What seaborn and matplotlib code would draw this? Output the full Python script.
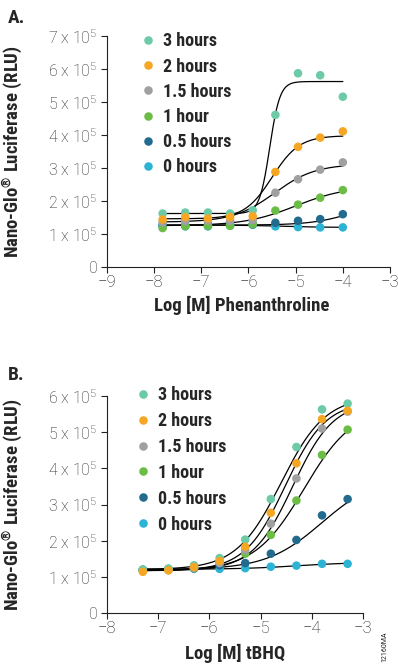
import numpy as np
import pandas as pd
import matplotlib
matplotlib.use("Agg")
import matplotlib.pyplot as plt
import seaborn as sns
from matplotlib import font_manager

sns.set_style("ticks")

names = {f.name for f in font_manager.fontManager.ttflist}
BOLD_FONT = [f for f in ["Roboto Condensed", "Barlow Condensed", "Fira Sans Condensed",
                         "Liberation Sans", "DejaVu Sans"] if f in names]
TICK_FONT = [f for f in ["Roboto", "Liberation Sans", "DejaVu Sans"] if f in names]
plt.rcParams["font.family"] = TICK_FONT
plt.rcParams["mathtext.default"] = "regular"

# ── Data ──
times   = ["3 hours", "2 hours", "1.5 hours", "1 hour", "0.5 hours", "0 hours"]
colors  = ["#6dcaa6", "#f5a623", "#a0a0a3", "#6cbd45", "#236b8e", "#2db4d4"]
draw_order = ["0 hours", "0.5 hours", "1 hour", "1.5 hours", "3 hours", "2 hours"]

# Panel A: phenanthroline, log M
phen_x = [-7.82, -7.34, -6.86, -6.39, -5.91, -5.43, -4.95, -4.48, -4.00]
phen_y = {  # RLU / 1e5
    "3 hours":   [1.62, 1.65, 1.65, 1.62, 1.72, 4.61, 5.87, 5.81, 5.16],
    "2 hours":   [1.44, 1.51, 1.47, 1.51, 1.54, 2.88, 3.64, 3.92, 4.11],
    "1.5 hours": [1.35, 1.39, 1.40, 1.40, 1.42, 2.25, 2.66, 2.95, 3.17],
    "1 hour":    [1.18, 1.24, 1.25, 1.25, 1.30, 1.71, 1.89, 2.10, 2.33],
    "0.5 hours": [1.27, 1.27, 1.28, 1.28, 1.29, 1.34, 1.40, 1.45, 1.60],
    "0 hours":   [1.23, 1.23, 1.23, 1.25, 1.28, 1.23, 1.21, 1.20, 1.20],
}
# 4PL fit params: bottom, top, logEC50, hill
phen_fit = {
    "3 hours":   [1.62, 5.62, -5.55, 4.0],
    "2 hours":   [1.46, 3.98, -5.50, 1.5],
    "1.5 hours": [1.36, 3.12, -5.45, 1.0],
    "1 hour":    [1.25, 2.45, -5.00, 0.8],
    "0.5 hours": [1.27, 2.00, -3.80, 1.0],
    "0 hours":   [1.27, 1.20, -5.30, 1.0],
}

# Panel B: tBHQ, log M
tbhq_x = [-7.3, -6.8, -6.3, -5.8, -5.3, -4.8, -4.3, -3.8, -3.3]
tbhq_y = {
    "3 hours":   [1.20, 1.23, 1.32, 1.52, 2.03, 3.15, 4.59, 5.63, 5.79],
    "2 hours":   [1.14, 1.18, 1.27, 1.44, 1.83, 2.77, 4.14, 5.36, 5.59],
    "1.5 hours": [1.17, 1.19, 1.25, 1.38, 1.74, 2.47, 3.72, 5.10, 5.57],
    "1 hour":    [1.17, 1.19, 1.24, 1.41, 1.64, 2.16, 3.11, 4.37, 5.07],
    "0.5 hours": [1.19, 1.20, 1.23, 1.32, 1.38, 1.64, 2.02, 2.70, 3.15],
    "0 hours":   [1.20, 1.22, 1.23, 1.22, 1.24, 1.28, 1.31, 1.36, 1.36],
}
tbhq_fit = {
    "3 hours":   [1.20, 6.00, -4.60, 1.00],
    "2 hours":   [1.17, 5.85, -4.52, 1.10],
    "1.5 hours": [1.17, 5.85, -4.37, 1.10],
    "1 hour":    [1.17, 5.70, -4.15, 0.90],
    "0.5 hours": [1.20, 3.80, -3.80, 0.80],
    "0 hours":   [1.21, 1.40, -4.30, 0.80],
}


def four_pl(x, bottom, top, ec50, hill):
    return bottom + (top - bottom) / (1 + 10 ** ((ec50 - x) * hill))


def make_frames(xs, ys, fits):
    pts = pd.DataFrame([(t, x, y * 1e5) for t in draw_order for x, y in zip(xs, ys[t])],
                       columns=["time", "logM", "rlu"])
    grid = np.linspace(min(xs), max(xs), 300)
    crv = pd.DataFrame([(t, g, four_pl(g, *fits[t]) * 1e5) for t in draw_order for g in grid],
                       columns=["time", "logM", "rlu"])
    return pts, crv


def sci_label(v):
    return "0" if v == 0 else f"{int(round(v / 1e5))} x 10$^{{5}}$"


def draw_panel(ax, xs, ys, fits, xlim, ylim, xlabel, ylab_x, xlab_pos, leg_anchor, leg_space):
    pts, crv = make_frames(xs, ys, fits)
    sns.lineplot(data=crv, x="logM", y="rlu", units="time", estimator=None,
                 color="black", lw=0.9, ax=ax, zorder=2)
    sns.scatterplot(data=pts, x="logM", y="rlu", hue="time", hue_order=times,
                    palette=colors, s=38, edgecolor="none", ax=ax, zorder=3)
    ax.set_xlim(*xlim)
    ax.set_ylim(*ylim)
    ax.set_xticks(np.arange(xlim[0], xlim[1] + 1))
    yt = np.arange(0, ylim[1] + 1, 1e5)
    ax.set_yticks(yt)
    ax.set_yticklabels([sci_label(v) for v in yt])
    ax.tick_params(axis="both", length=4, width=0.8, color="#222", labelcolor="#222")
    ax.tick_params(axis="x", labelsize=12, pad=2)
    ax.tick_params(axis="y", labelsize=11.5, pad=3)
    for lab in ax.get_xticklabels() + ax.get_yticklabels():
        lab.set_fontweight("light")
    for s in ("top", "right"):
        ax.spines[s].set_visible(False)
    for s in ("left", "bottom"):
        ax.spines[s].set_linewidth(0.8)
        ax.spines[s].set_color("#222")
    ax.set_xlabel(xlabel, fontsize=13.5, fontweight="bold", family=BOLD_FONT)
    ax.set_ylabel("Nano-Glo$^{®}$ Luciferase (RLU)", fontsize=13.5,
                  fontweight="bold", family=BOLD_FONT)
    ax.xaxis.set_label_coords(*xlab_pos)
    ax.yaxis.set_label_coords(ylab_x, 0.5)
    leg = ax.legend(loc="upper left", bbox_to_anchor=leg_anchor, frameon=False,
                    handletextpad=0.35, labelspacing=leg_space, borderpad=0,
                    handlelength=1.0, prop={"family": BOLD_FONT, "weight": "bold", "size": 13})
    return leg


def main():
    fig = plt.figure(figsize=(3.98, 6.64), dpi=100)
    ax_a = fig.add_axes([0.2688, 0.5979, 0.7111, 0.3479])
    ax_b = fig.add_axes([0.2688, 0.0768, 0.6432, 0.3268])

    draw_panel(ax_a, phen_x, phen_y, phen_fit, (-9, -3), (0, 7e5),
               "Log [M] Phenanthroline", -0.29, (0.477, -0.125), (0.08, 1.055), 0.40)
    draw_panel(ax_b, tbhq_x, tbhq_y, tbhq_fit, (-8, -3), (0, 6e5),
               "Log [M] tBHQ", -0.32, (0.5, -0.14), (0.07, 1.088), 0.44)

    fig.text(8 / 398, 1 - 23 / 664, "A.", fontsize=14, fontweight="bold", family=BOLD_FONT)
    fig.text(8 / 398, 1 - 380 / 664, "B.", fontsize=14, fontweight="bold", family=BOLD_FONT)
    fig.text(388 / 398, 1 - 662 / 664, "12160MA", fontsize=5, rotation=90,
             ha="right", va="bottom", color="#222")

    fig.savefig("out.png", dpi=100)


if __name__ == "__main__":
    main()
